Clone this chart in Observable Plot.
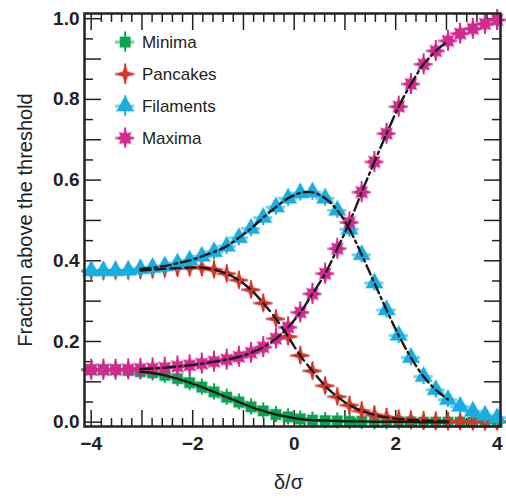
<!DOCTYPE html>
<html><head><meta charset="utf-8">
<script src="https://cdn.jsdelivr.net/npm/d3@7"></script>
<script src="https://cdn.jsdelivr.net/npm/@observablehq/plot@0.6"></script>
<style>
body{margin:0;background:#fff;font-family:"Liberation Sans",Arial,sans-serif}
#chart{width:506px;height:498px}
</style>
</head><body><div id="chart"></div>
<script>
// ---- data ----
const deltaSigma = [-4.00,-3.76,-3.52,-3.27,-3.03,-2.79,-2.55,-2.30,-2.06,-1.82,-1.58,-1.33,-1.09,-0.85,-0.61,-0.36,-0.12,0.12,0.36,0.61,0.85,1.09,1.33,1.58,1.82,2.06,2.30,2.55,2.79,3.03,3.27,3.52,3.76,4.00];
const minima    = [0.130,0.130,0.130,0.128,0.125,0.122,0.116,0.108,0.098,0.087,0.075,0.062,0.050,0.038,0.028,0.019,0.013,0.008,0.005,0.004,0.003,0.002,0.002,0.001,0.001,0.001,0.001,0,0,0,0,0,0,0];
const pancakes  = [0.374,0.374,0.375,0.375,0.376,0.378,0.380,0.382,0.383,0.383,0.378,0.368,0.352,0.328,0.295,0.256,0.212,0.165,0.127,0.090,0.063,0.042,0.028,0.018,0.012,0.008,0.006,0.004,0.003,0.002,0.002,0.001,0.001,0.001];
const filaments = [0.375,0.375,0.375,0.376,0.380,0.383,0.387,0.394,0.401,0.411,0.422,0.436,0.457,0.480,0.507,0.533,0.555,0.568,0.570,0.555,0.525,0.478,0.415,0.345,0.278,0.215,0.160,0.113,0.080,0.056,0.039,0.027,0.017,0.011];
const maxima    = [0.130,0.130,0.130,0.131,0.132,0.133,0.135,0.138,0.141,0.145,0.150,0.155,0.162,0.172,0.186,0.207,0.235,0.272,0.318,0.368,0.430,0.495,0.570,0.645,0.715,0.782,0.838,0.887,0.920,0.945,0.963,0.975,0.987,0.997];
const seriesNames = ["Minima","Pancakes","Filaments","Maxima"];
const xErr = 0.19;
const yErrs = [0.02, 0.022, 0.02, 0.026];
const xTickLabels = [-4,-2,0,2,4];
const yTickLabels = [0,0.2,0.4,0.6,0.8,1.0];
const xLabel = "δ/σ";
const yLabel = "Fraction above the threshold";

// ---- styles ----
const colors = ["#0aa550","#d1392d","#17aee0","#d22a8e"];
const lineDash = [null, "10,5", "10,4,2.5,4", "12,4,2.5,4"];

function star(n, innerRatio, scale) {
  return {draw(ctx, size) {
    const R = Math.sqrt(size / Math.PI) * scale, r = R * innerRatio;
    for (let i = 0; i < 2 * n; i++) {
      const a = Math.PI * i / n - Math.PI / 2;
      const rad = i % 2 ? r : R;
      const px = rad * Math.cos(a), py = rad * Math.sin(a);
      i ? ctx.lineTo(px, py) : ctx.moveTo(px, py);
    }
    ctx.closePath();
  }};
}
const symbols = [d3.symbolSquare, star(4, 0.38, 1), d3.symbolTriangle, star(8, 0.62, 1)];
const radii = [5.8, 8.6, 6.3, 8.0];

const allValues = [minima, pancakes, filaments, maxima];
const series = seriesNames.map((name, s) => deltaSigma.map((x, i) => ({name, x, y: allValues[s][i]})));

const legendRows = seriesNames.map((name, i) => ({name, i, x: -3.33, y: 0.942 - i * 0.0793}));

const xMajor = d3.range(-4, 5, 1);
const xMinor = d3.range(-4, 4.001, 0.2).filter(v => Math.abs(v - Math.round(v)) > 1e-6);
const yMajor = d3.range(0, 1.001, 0.1);
const yMinor = d3.range(0.05, 1, 0.1);

const marks = [];
const tickStyle = {stroke: "#222", strokeWidth: 1.5, tickFormat: () => "", label: null};
for (const anchor of ["bottom","top"]) {
  marks.push(Plot.axisX(xMajor, {anchor, tickSize: -16, ...tickStyle}));
  marks.push(Plot.axisX(xMinor, {anchor, tickSize: -8, ...tickStyle}));
}
for (const anchor of ["left","right"]) {
  marks.push(Plot.axisY(yMajor, {anchor, tickSize: -17, ...tickStyle}));
  marks.push(Plot.axisY(yMinor, {anchor, tickSize: -9, ...tickStyle}));
}
marks.push(Plot.axisX(xTickLabels, {anchor: "bottom", tickSize: 0, tickPadding: 10, fontSize: 19, fontWeight: "bold", fill: "#222", label: null}));
marks.push(Plot.axisY(yTickLabels, {anchor: "left", tickSize: 0, tickPadding: 5, tickFormat: d3.format(".1f"), fontSize: 19, fontWeight: "bold", fill: "#222", label: null}));

// error bars and markers
series.forEach((data, s) => {
  marks.push(Plot.ruleY(data, {y: "y", x1: d => d.x - xErr, x2: d => d.x + xErr, stroke: colors[s], strokeWidth: 3, strokeOpacity: 0.55}));
  marks.push(Plot.ruleX(data, {x: "x", y1: d => d.y - yErrs[s], y2: d => d.y + yErrs[s], stroke: colors[s], strokeWidth: 2}));
  marks.push(Plot.dot(data, {x: "x", y: "y", symbol: symbols[s], r: radii[s], fill: colors[s], stroke: colors[s], strokeOpacity: 0.4, strokeWidth: 1.5}));
});
// fitted curves
series.forEach((data, s) => {
  marks.push(Plot.line(data.filter(d => d.x >= -3.1 && d.x <= 3.1), {x: "x", y: "y", curve: "catmull-rom", stroke: "#1a1a1a", strokeWidth: 2.4, strokeDasharray: lineDash[s]}));
});
// legend
legendRows.forEach(d => {
  const s = d.i;
  marks.push(Plot.ruleY([d], {y: "y", x1: e => e.x - xErr, x2: e => e.x + xErr, stroke: colors[s], strokeWidth: 3, strokeOpacity: 0.55}));
  marks.push(Plot.ruleX([d], {x: "x", y1: e => e.y - 0.025, y2: e => e.y + 0.025, stroke: colors[s], strokeWidth: 2}));
  marks.push(Plot.dot([d], {x: "x", y: "y", symbol: symbols[s], r: radii[s], fill: colors[s], stroke: colors[s], strokeOpacity: 0.4, strokeWidth: 1.5}));
});
marks.push(Plot.text(legendRows, {x: d => d.x + 0.33, y: "y", text: "name", textAnchor: "start", fontSize: 17, fill: "#222"}));

marks.push(Plot.text([yLabel], {text: d => d, frameAnchor: "left", textAnchor: "middle", dx: -59, rotate: -90, fontSize: 20, fill: "#222"}));
marks.push(Plot.text([xLabel], {text: d => d, frameAnchor: "bottom", textAnchor: "middle", dx: -4, dy: 62, fontSize: 20, fill: "#222"}));
marks.push(Plot.frame({stroke: "#222", strokeWidth: 2.5}));

const chart = Plot.plot({
  width: 506, height: 498,
  marginLeft: 84, marginRight: 6, marginTop: 13, marginBottom: 72,
  style: {fontFamily: '"Liberation Sans", Arial, sans-serif', background: "#fff"},
  x: {domain: [-4.132, 4.065], axis: null},
  y: {domain: [-0.0107, 1.0129], axis: null},
  marks
});
document.getElementById("chart").appendChild(chart);
</script>
</body></html>
